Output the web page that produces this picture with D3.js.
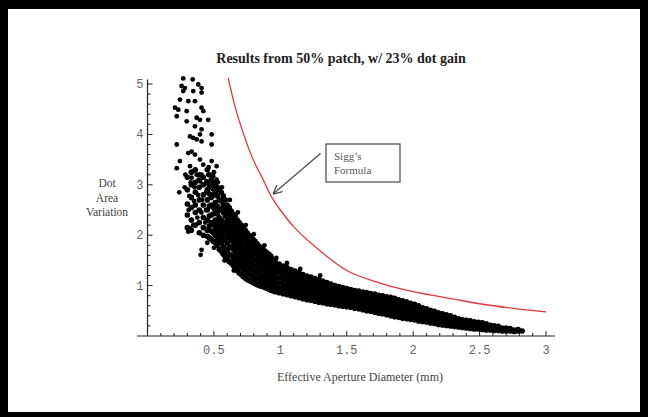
<!DOCTYPE html>
<html>
<head>
<meta charset="utf-8">
<script src="https://cdn.jsdelivr.net/npm/d3@7"></script>
<style>
  body { margin: 0; background: #000; }
  svg { display: block; }
</style>
</head>
<body>
<svg id="chart" width="648" height="417"></svg>
<script>
const title = "Results from 50% patch, w/ 23% dot gain"
const xLabel = "Effective Aperture Diameter (mm)"
const yLabel = ["Dot", "Area", "Variation"]
const noteText = ["Sigg\u2019s", "Formula"]

const xTicks = [0.5, 1, 1.5, 2, 2.5, 3]
const yTicks = [1, 2, 3, 4, 5]
const xMinor = [0.1,0.2,0.3,0.4,0.6,0.7,0.8,0.9,1.1,1.2,1.3,1.4,1.6,1.7,1.8,1.9,2.1,2.2,2.3,2.4,2.6,2.7,2.8,2.9]
const yMinor = [0.2,0.4,0.6,0.8,1.2,1.4,1.6,1.8,2.2,2.4,2.6,2.8,3.2,3.4,3.6,3.8,4.2,4.4,4.6,4.8]

// Sigg's formula curve
const siggX = [0.607, 0.658, 0.72, 0.795, 0.871, 0.934, 1.0, 1.1, 1.25, 1.5, 1.75, 2.0, 2.31, 2.5, 2.75, 3.0]
const siggY = [5.12, 4.56, 4.03, 3.5, 3.1, 2.76, 2.5, 2.17, 1.8, 1.3, 1.05, 0.88, 0.73, 0.64, 0.55, 0.48]

// loose points at small apertures
const sparsePts = [
  [0.269,5.11],[0.34,5.09],[0.257,4.96],[0.282,4.92],[0.382,4.99],[0.407,4.92],
  [0.269,4.86],[0.344,4.86],[0.407,4.83],[0.244,4.69],[0.307,4.66],[0.357,4.66],
  [0.207,4.53],[0.232,4.49],[0.295,4.46],[0.407,4.53],[0.42,4.46],[0.22,4.36],
  [0.37,4.33],[0.395,4.29],[0.457,4.29],[0.295,4.26],[0.357,4.16],[0.407,4.1],
  [0.395,4.0],[0.32,3.96],[0.344,3.93],[0.483,4.0],[0.22,3.8],[0.37,3.9],
  [0.407,3.86],[0.483,3.8],[0.307,3.63],[0.332,3.66],[0.357,3.6],[0.244,3.47],
  [0.395,3.5],[0.42,3.4],[0.483,3.47],[0.52,3.37],[0.22,3.33],[0.32,3.37],
  [0.344,3.27],[0.37,3.2],[0.407,3.2],[0.457,3.2],[0.495,3.17],[0.332,3.14],
  [0.395,3.07],[0.445,3.07],[0.52,3.1],[0.239,2.85],[0.407,1.71],[0.40,1.61],
  [0.32,2.14],[0.307,2.07],
  [0.28,2.95],[0.285,3.2],[0.31,2.5],[0.315,2.78],[0.325,3.05],[0.345,2.2],
  [0.35,2.68],[0.355,2.95],[0.375,2.35],[0.38,2.8],[0.385,3.1],[0.405,2.45],
  [0.41,2.7],[0.415,3.0],[0.435,2.25],[0.44,2.5],[0.44,2.85],[0.46,3.35],
  [0.5,3.25],[0.53,3.05],[0.56,2.95],[0.62,2.7],[0.68,2.45],[0.74,2.2],
  [0.8,2.02],[0.88,1.8],[0.97,1.55],[1.05,1.45],[1.15,1.33],[1.3,1.2],
  [0.58,1.5],[0.65,1.3],[0.5,1.75],[0.45,1.85]
]

// dense band, column by column: [x, [y values]]
const bandCols = [
  [0.30,[2.15,2.4,2.62,2.9,3.15]],
  [0.33,[2.1,2.3,2.55,2.75,3.0,3.25]],
  [0.36,[2.2,2.45,2.6,2.85,3.05,3.3]],
  [0.39,[2.05,2.25,2.5,2.7,2.95,3.2]],
  [0.42,[2.0,2.15,2.35,2.6,2.8,3.0,3.15]],
  [0.45,[1.98,2.1,2.3,2.5,2.7,2.9,3.05,3.3]],
  [0.465,[1.95,2.18,2.38,2.58,2.82,2.98,3.2]],
  [0.48,[1.92,2.08,2.25,2.4,2.6,2.75,2.95,3.1]],
  [0.495,[1.88,2.05,2.22,2.42,2.55,2.8,2.92,3.05]],
  [0.51,[1.85,2.0,2.15,2.3,2.5,2.65,2.85,3.0]],
  [0.525,[1.8,1.95,2.1,2.25,2.42,2.58,2.78,2.95]],
  [0.54,[1.72,1.9,2.05,2.2,2.35,2.5,2.7,2.9]],
  [0.555,[1.68,1.85,2.0,2.15,2.3,2.52,2.68,2.85]],
  [0.57,[1.62,1.78,1.95,2.1,2.25,2.45,2.6,2.78]],
  [0.585,[1.58,1.72,1.9,2.06,2.2,2.38,2.52,2.7]],
  [0.60,[1.52,1.68,1.85,2.0,2.15,2.3,2.45,2.6]],
  [0.615,[1.48,1.62,1.78,1.95,2.1,2.25,2.4,2.55]],
  [0.63,[1.45,1.6,1.75,1.9,2.05,2.2,2.35,2.48]],
  [0.645,[1.4,1.55,1.72,1.86,2.0,2.15,2.3,2.42]],
  [0.66,[1.36,1.5,1.65,1.8,1.95,2.1,2.25,2.38]],
  [0.675,[1.3,1.46,1.6,1.75,1.9,2.05,2.18,2.3]],
  [0.69,[1.25,1.4,1.55,1.7,1.85,2.0,2.12,2.25]],
  [0.705,[1.22,1.36,1.5,1.64,1.78,1.92,2.06,2.2]],
  [0.72,[1.18,1.32,1.46,1.6,1.74,1.88,2.0,2.15]],
  [0.735,[1.15,1.28,1.42,1.56,1.7,1.85,1.98,2.1]],
  [0.75,[1.12,1.25,1.38,1.52,1.65,1.8,1.92,2.05]],
  [0.765,[1.1,1.22,1.35,1.48,1.62,1.75,1.88,2.0]],
  [0.78,[1.08,1.2,1.32,1.45,1.58,1.7,1.82,1.96]],
  [0.795,[1.06,1.18,1.3,1.42,1.55,1.68,1.8,1.92]],
  [0.81,[1.04,1.15,1.27,1.4,1.52,1.64,1.76,1.88]],
  [0.825,[1.02,1.13,1.25,1.37,1.5,1.62,1.73,1.83]],
  [0.84,[1.0,1.11,1.22,1.34,1.46,1.58,1.7,1.78]],
  [0.855,[0.99,1.1,1.2,1.32,1.44,1.55,1.67,1.75]],
  [0.87,[0.98,1.08,1.19,1.3,1.42,1.53,1.64,1.72]],
  [0.885,[0.96,1.06,1.17,1.28,1.4,1.5,1.61,1.68]],
  [0.90,[0.95,1.05,1.15,1.26,1.37,1.48,1.58,1.65]],
  [0.915,[0.93,1.03,1.13,1.24,1.35,1.46,1.55,1.62]],
  [0.93,[0.91,1.01,1.12,1.22,1.33,1.43,1.53,1.58]],
  [0.945,[0.9,1.0,1.1,1.2,1.3,1.41,1.5]],
  [0.96,[0.88,0.98,1.08,1.18,1.28,1.38,1.48]],
  [0.99,[0.86,0.95,1.05,1.15,1.25,1.34,1.43]],
  [1.02,[0.84,0.93,1.02,1.12,1.21,1.3,1.39]],
  [1.05,[0.82,0.91,1.0,1.09,1.18,1.27,1.36]],
  [1.08,[0.8,0.89,0.97,1.06,1.15,1.24,1.32]],
  [1.11,[0.78,0.86,0.95,1.04,1.12,1.21,1.29]],
  [1.14,[0.76,0.84,0.93,1.01,1.1,1.18,1.26]],
  [1.17,[0.74,0.82,0.91,0.99,1.07,1.15,1.22]],
  [1.20,[0.72,0.8,0.88,0.96,1.04,1.12,1.19]],
  [1.23,[0.71,0.79,0.87,0.95,1.02,1.1,1.17]],
  [1.26,[0.69,0.77,0.85,0.92,1.0,1.07,1.14]],
  [1.29,[0.67,0.75,0.83,0.9,0.98,1.05,1.12]],
  [1.32,[0.66,0.73,0.81,0.88,0.96,1.03,1.09]],
  [1.35,[0.64,0.72,0.79,0.87,0.94,1.0,1.06]],
  [1.38,[0.63,0.7,0.78,0.85,0.92,0.98,1.03]],
  [1.41,[0.62,0.69,0.76,0.83,0.9,0.96,1.0]],
  [1.44,[0.6,0.67,0.74,0.81,0.88,0.94,0.98]],
  [1.47,[0.59,0.66,0.73,0.8,0.86,0.92,0.96]],
  [1.50,[0.58,0.65,0.72,0.78,0.85,0.91,0.94]],
  [1.53,[0.57,0.64,0.7,0.77,0.83,0.89,0.92]],
  [1.56,[0.55,0.62,0.69,0.75,0.82,0.88,0.9]],
  [1.59,[0.54,0.61,0.67,0.74,0.8,0.86,0.89]],
  [1.62,[0.52,0.59,0.66,0.72,0.78,0.84,0.87]],
  [1.65,[0.5,0.57,0.64,0.7,0.77,0.83,0.86]],
  [1.68,[0.49,0.56,0.62,0.69,0.75,0.81,0.84]],
  [1.71,[0.47,0.54,0.61,0.67,0.74,0.8,0.83]],
  [1.74,[0.45,0.52,0.59,0.66,0.72,0.78,0.81]],
  [1.77,[0.44,0.5,0.57,0.64,0.7,0.76,0.8]],
  [1.80,[0.42,0.49,0.56,0.62,0.69,0.75,0.78]],
  [1.83,[0.4,0.47,0.54,0.61,0.67,0.73,0.77]],
  [1.86,[0.38,0.45,0.52,0.59,0.65,0.71,0.75]],
  [1.89,[0.37,0.44,0.5,0.57,0.63,0.69,0.72]],
  [1.92,[0.35,0.42,0.49,0.55,0.61,0.67,0.7]],
  [1.95,[0.34,0.41,0.47,0.53,0.59,0.65,0.68]],
  [1.98,[0.33,0.39,0.45,0.51,0.57,0.63,0.65]],
  [2.01,[0.32,0.38,0.44,0.5,0.55,0.61,0.63]],
  [2.04,[0.3,0.36,0.42,0.48,0.53,0.58,0.6]],
  [2.07,[0.29,0.35,0.4,0.46,0.51,0.56]],
  [2.10,[0.28,0.33,0.38,0.44,0.49,0.54]],
  [2.13,[0.26,0.31,0.37,0.42,0.47,0.51]],
  [2.16,[0.25,0.3,0.35,0.4,0.45,0.49]],
  [2.19,[0.23,0.28,0.33,0.38,0.43,0.46]],
  [2.22,[0.22,0.27,0.32,0.36,0.41,0.44]],
  [2.25,[0.21,0.26,0.3,0.35,0.39,0.42]],
  [2.28,[0.2,0.25,0.29,0.33,0.37,0.4]],
  [2.31,[0.19,0.23,0.27,0.31,0.35,0.37]],
  [2.34,[0.18,0.22,0.26,0.3,0.34]],
  [2.37,[0.17,0.21,0.25,0.29,0.32]],
  [2.40,[0.16,0.2,0.24,0.28,0.31]],
  [2.43,[0.15,0.19,0.23,0.27,0.3]],
  [2.46,[0.14,0.18,0.22,0.26,0.28]],
  [2.49,[0.14,0.17,0.21,0.25,0.27]],
  [2.52,[0.13,0.16,0.2,0.24,0.26]],
  [2.55,[0.12,0.15,0.19,0.22,0.24]],
  [2.58,[0.12,0.15,0.18,0.21]],
  [2.61,[0.11,0.14,0.17,0.2]],
  [2.64,[0.11,0.14,0.17,0.19]],
  [2.67,[0.1,0.13,0.16]],
  [2.70,[0.1,0.13,0.16]],
  [2.73,[0.1,0.12,0.15]],
  [2.76,[0.09,0.12]],
  [2.79,[0.1,0.13]],
  [2.82,[0.1]]
]

const svg = d3.select('#chart')

// black frame + white page
svg.append('rect').attr('width', 648).attr('height', 417).attr('fill', '#000')
svg.append('rect').attr('x', 8).attr('y', 9).attr('width', 632).attr('height', 403).attr('fill', '#fff')

const x = d3.scaleLinear().domain([0, 3]).range([147.5, 546])
const y = d3.scaleLinear().domain([0, 5]).range([336, 84])

const serif = "'Liberation Serif', 'Times New Roman', serif"
const mono = "'Liberation Mono', 'Courier New', monospace"

// points
const bandPts = []
bandCols.forEach(([cx, ys]) => ys.forEach(v => bandPts.push([cx, v])))

const dots = svg.append('g').attr('fill', '#000')
dots.selectAll('circle.band')
  .data(bandPts)
  .enter()
  .append('circle')
  .attr('class', 'band')
  .attr('cx', d => x(d[0]))
  .attr('cy', d => y(d[1]))
  .attr('r', 2.8)
dots.selectAll('circle.loose')
  .data(sparsePts)
  .enter()
  .append('circle')
  .attr('class', 'loose')
  .attr('cx', d => x(d[0]))
  .attr('cy', d => y(d[1]))
  .attr('r', 2.4)

// red curve
const sigg = siggX.map((v, i) => [v, siggY[i]])
svg.append('path')
  .datum(sigg)
  .attr('d', d3.line().x(d => x(d[0])).y(d => y(d[1])).curve(d3.curveCatmullRom.alpha(0.5)))
  .attr('fill', 'none')
  .attr('stroke', '#e2383a')
  .attr('stroke-width', 1.3)

// axes
const axisG = svg.append('g').attr('stroke', '#222')
axisG.append('line')
  .attr('x1', x(-0.08)).attr('x2', x(3.07))
  .attr('y1', y(0)).attr('y2', y(0))
  .attr('stroke-width', 1.2)
axisG.append('line')
  .attr('x1', x(0)).attr('x2', x(0))
  .attr('y1', y(0)).attr('y2', y(5.09))
  .attr('stroke-width', 1.2)

svg.append('g')
  .selectAll('line')
  .data(xTicks)
  .enter().append('line')
  .attr('x1', d => x(d)).attr('x2', d => x(d))
  .attr('y1', y(0)).attr('y2', y(0) - 5)
  .attr('stroke', '#222')
svg.append('g')
  .selectAll('line')
  .data(xMinor)
  .enter().append('line')
  .attr('x1', d => x(d)).attr('x2', d => x(d))
  .attr('y1', y(0)).attr('y2', y(0) - 3)
  .attr('stroke', '#222')
svg.append('g')
  .selectAll('line')
  .data(yTicks)
  .enter().append('line')
  .attr('x1', x(0)).attr('x2', x(0) + 5)
  .attr('y1', d => y(d)).attr('y2', d => y(d))
  .attr('stroke', '#222')
svg.append('g')
  .selectAll('line')
  .data(yMinor)
  .enter().append('line')
  .attr('x1', x(0)).attr('x2', x(0) + 3)
  .attr('y1', d => y(d)).attr('y2', d => y(d))
  .attr('stroke', '#222')

svg.append('g')
  .selectAll('text')
  .data(xTicks)
  .enter().append('text')
  .attr('x', d => x(d))
  .attr('y', y(0) + 18)
  .attr('text-anchor', 'middle')
  .attr('font-family', mono)
  .attr('font-size', 12)
  .attr('fill', '#666')
  .text(d => d)
svg.append('g')
  .selectAll('text')
  .data(yTicks)
  .enter().append('text')
  .attr('x', x(0) - 4)
  .attr('y', d => y(d) + 4)
  .attr('text-anchor', 'end')
  .attr('font-family', mono)
  .attr('font-size', 12)
  .attr('fill', '#666')
  .text(d => d)

// title and axis labels
svg.append('text')
  .attr('x', 341).attr('y', 63)
  .attr('text-anchor', 'middle')
  .attr('font-family', serif)
  .attr('font-weight', 'bold')
  .attr('font-size', 14)
  .attr('fill', '#222')
  .text(title)

svg.append('text')
  .attr('x', 360).attr('y', 381)
  .attr('text-anchor', 'middle')
  .attr('font-family', serif)
  .attr('font-size', 12)
  .attr('fill', '#444')
  .text(xLabel)

svg.append('g')
  .selectAll('text')
  .data(yLabel)
  .enter().append('text')
  .attr('x', 107)
  .attr('y', (d, i) => 187 + i * 14.5)
  .attr('text-anchor', 'middle')
  .attr('font-family', serif)
  .attr('font-size', 11.5)
  .attr('fill', '#444')
  .text(d => d)

// annotation box + arrow
svg.append('rect')
  .attr('x', 326).attr('y', 144)
  .attr('width', 74).attr('height', 38)
  .attr('fill', 'none')
  .attr('stroke', '#555')
  .attr('stroke-width', 1.3)
svg.append('g')
  .selectAll('text')
  .data(noteText)
  .enter().append('text')
  .attr('x', 334)
  .attr('y', (d, i) => 160 + i * 14)
  .attr('font-family', serif)
  .attr('font-size', 11)
  .attr('fill', '#555')
  .text(d => d)

const defs = svg.append('defs')
defs.append('marker')
  .attr('id', 'head')
  .attr('viewBox', '0 0 10 10')
  .attr('refX', 10).attr('refY', 5)
  .attr('markerWidth', 9).attr('markerHeight', 9)
  .attr('markerUnits', 'userSpaceOnUse')
  .attr('orient', 'auto')
  .append('path')
  .attr('d', 'M0,0 L10,5 L0,10')
  .attr('fill', 'none')
  .attr('stroke', '#444')
  .attr('stroke-width', 1.4)

svg.append('line')
  .attr('x1', 320.5).attr('y1', 153.5)
  .attr('x2', 273).attr('y2', 194)
  .attr('stroke', '#444')
  .attr('stroke-width', 1.1)
  .attr('marker-end', 'url(#head)')
</script>
</body>
</html>
